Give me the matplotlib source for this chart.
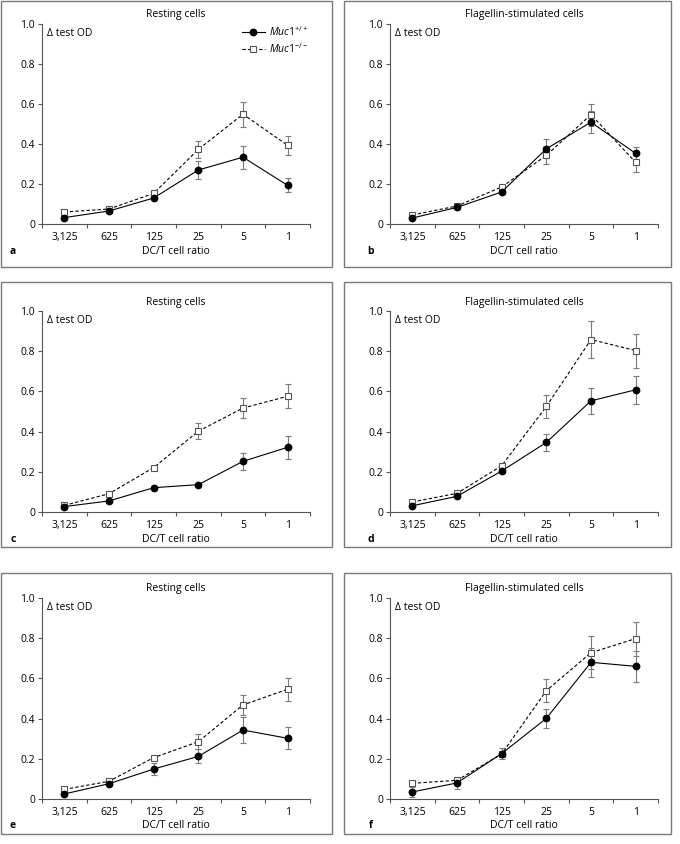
import matplotlib
matplotlib.use('Agg')
import matplotlib.pyplot as plt
from matplotlib.patches import Rectangle
from matplotlib.lines import Line2D

plt.rcParams['font.family'] = ['Open Sans', 'DejaVu Sans']
plt.rcParams['mathtext.fontset'] = 'custom'
plt.rcParams['mathtext.rm'] = 'Open Sans'
plt.rcParams['mathtext.it'] = 'Open Sans:italic'

ratios = ['3,125', '625', '125', '25', '5', '1']
y_ticks = [0, 0.2, 0.4, 0.6, 0.8, 1.0]
y_tick_labels = ['0', '0.2', '0.4', '0.6', '0.8', '1.0']

# panel values: wild type (Muc1+/+) and knockout (Muc1-/-), mean and error
wt_a = [0.032, 0.065, 0.13, 0.27, 0.334, 0.193]
wt_a_err = [0.006, 0.006, 0.008, 0.047, 0.057, 0.035]
ko_a = [0.06, 0.075, 0.153, 0.373, 0.549, 0.393]
ko_a_err = [0.006, 0.006, 0.008, 0.042, 0.062, 0.046]

wt_b = [0.03, 0.083, 0.16, 0.376, 0.509, 0.353]
wt_b_err = [0.005, 0.006, 0.008, 0.048, 0.055, 0.033]
ko_b = [0.045, 0.09, 0.185, 0.343, 0.547, 0.308]
ko_b_err = [0.005, 0.006, 0.008, 0.045, 0.055, 0.048]

wt_c = [0.027, 0.055, 0.121, 0.136, 0.252, 0.322]
wt_c_err = [0.005, 0.006, 0.008, 0.008, 0.044, 0.057]
ko_c = [0.033, 0.091, 0.221, 0.402, 0.517, 0.576]
ko_c_err = [0.005, 0.006, 0.008, 0.039, 0.051, 0.06]

wt_d = [0.031, 0.078, 0.204, 0.346, 0.553, 0.608]
wt_d_err = [0.005, 0.006, 0.008, 0.044, 0.063, 0.071]
ko_d = [0.05, 0.093, 0.23, 0.525, 0.858, 0.803]
ko_d_err = [0.005, 0.006, 0.008, 0.056, 0.09, 0.085]

wt_e = [0.025, 0.076, 0.149, 0.212, 0.343, 0.302]
wt_e_err = [0.005, 0.006, 0.029, 0.035, 0.063, 0.055]
ko_e = [0.048, 0.088, 0.206, 0.285, 0.468, 0.546]
ko_e_err = [0.005, 0.006, 0.008, 0.036, 0.05, 0.058]

wt_f = [0.035, 0.08, 0.226, 0.401, 0.68, 0.66]
wt_f_err = [0.023, 0.03, 0.027, 0.046, 0.072, 0.076]
ko_f = [0.078, 0.093, 0.224, 0.539, 0.728, 0.798]
ko_f_err = [0.006, 0.01, 0.01, 0.058, 0.082, 0.085]

panels = [
    ('a', 'Resting cells', wt_a, wt_a_err, ko_a, ko_a_err),
    ('b', 'Flagellin-stimulated cells', wt_b, wt_b_err, ko_b, ko_b_err),
    ('c', 'Resting cells', wt_c, wt_c_err, ko_c, ko_c_err),
    ('d', 'Flagellin-stimulated cells', wt_d, wt_d_err, ko_d, ko_d_err),
    ('e', 'Resting cells', wt_e, wt_e_err, ko_e, ko_e_err),
    ('f', 'Flagellin-stimulated cells', wt_f, wt_f_err, ko_f, ko_f_err),
]

W, H = 680, 844
fig = plt.figure(figsize=(6.8, 8.44), dpi=100)


def fx(px):
    return px / W


def fy(py):
    return 1 - py / H


col_axes = [(42, 310), (390, 658)]
row_axes = [(24, 224), (311, 512), (598, 799)]
col_box = [(1, 332), (344, 671)]
row_box = [(1, 267), (282, 547), (573, 834)]

grey = '#7a7a7a'
fs = 7.5
msize_wt = 4.6
msize_ko = 4.4

for i, (letter, title, wt, wt_err, ko, ko_err) in enumerate(panels):
    r, c = divmod(i, 2)
    x0, x1 = col_axes[c]
    y0, y1 = row_axes[r]
    bx0, bx1 = col_box[c]
    by0, by1 = row_box[r]

    fig.patches.append(Rectangle((fx(bx0), fy(by1)), fx(bx1) - fx(bx0), fy(by0) - fy(by1),
                                 transform=fig.transFigure, fill=False,
                                 edgecolor=grey, linewidth=1.0))

    ax = fig.add_axes([fx(x0), fy(y1), fx(x1) - fx(x0), fy(y0) - fy(y1)])
    xs = list(range(len(ratios)))

    ax.errorbar(xs, ko, yerr=ko_err, fmt='none', ecolor=grey, elinewidth=0.8,
                capsize=2.5, capthick=0.8, clip_on=False, zorder=2)
    ax.errorbar(xs, wt, yerr=wt_err, fmt='none', ecolor=grey, elinewidth=0.8,
                capsize=2.5, capthick=0.8, clip_on=False, zorder=2)
    ax.plot(xs, ko, color='black', linestyle=(0, (3, 2)), linewidth=0.8,
            marker='s', markersize=msize_ko, markerfacecolor='white',
            markeredgecolor='#555555', markeredgewidth=0.8, clip_on=False, zorder=3)
    ax.plot(xs, wt, color='black', linestyle='-', linewidth=0.8,
            marker='o', markersize=msize_wt, markerfacecolor='black',
            markeredgecolor='black', clip_on=False, zorder=4)

    ax.set_xlim(-0.5, 5.5)
    ax.set_ylim(0, 1.0)
    for s in ['top', 'right']:
        ax.spines[s].set_visible(False)
    for s in ['left', 'bottom']:
        ax.spines[s].set_color('#555555')
        ax.spines[s].set_linewidth(0.8)

    ax.set_xticks([x - 0.5 for x in range(len(ratios) + 1)])
    ax.set_xticklabels([])
    ax.set_xticks(xs, minor=True)
    ax.set_xticklabels(ratios, minor=True)
    ax.tick_params(axis='x', which='major', direction='out', length=3,
                   width=0.8, color='#555555')
    ax.tick_params(axis='x', which='minor', length=0, pad=6, labelsize=fs)
    ax.set_yticks(y_ticks)
    ax.set_yticklabels(y_tick_labels)
    ax.tick_params(axis='y', direction='out', length=3, width=0.8,
                   color='#555555', labelsize=fs, pad=2)

    ax.text(0.02, 0.955, '\u0394 test OD', transform=ax.transAxes,
            fontsize=fs, ha='left', va='center')

    cx = (x0 + x1) / 2
    fig.text(fx(cx), fy(y0 - 9), title, fontsize=fs, ha='center', va='center')
    fig.text(fx(cx), fy(y1 + 27), 'DC/T cell ratio', fontsize=fs,
             ha='center', va='center')
    fig.text(fx(bx0 + 12 if c == 0 else bx0 + 27), fy(y1 + 27), letter,
             fontsize=fs, fontweight='bold', ha='center', va='center')

    if letter == 'a':
        handles = [
            Line2D([], [], color='black', linestyle='-', linewidth=0.8, marker='o',
                   markersize=msize_wt, markerfacecolor='black'),
            Line2D([], [], color='black', linestyle=(0, (3, 2)), linewidth=0.8,
                   marker='s', markersize=msize_ko, markerfacecolor='white',
                   markeredgecolor='#555555', markeredgewidth=0.8),
        ]
        labels = [r'$\mathit{Muc1}^{+/+}$', r'$\mathit{Muc1}^{-/-}$']
        ax.legend(handles, labels, loc='upper right', bbox_to_anchor=(1.02, 1.03),
                  frameon=False, fontsize=fs, handlelength=2.2, handletextpad=0.4,
                  labelspacing=0.3, borderpad=0.2)

fig.savefig('out.png', dpi=100)
